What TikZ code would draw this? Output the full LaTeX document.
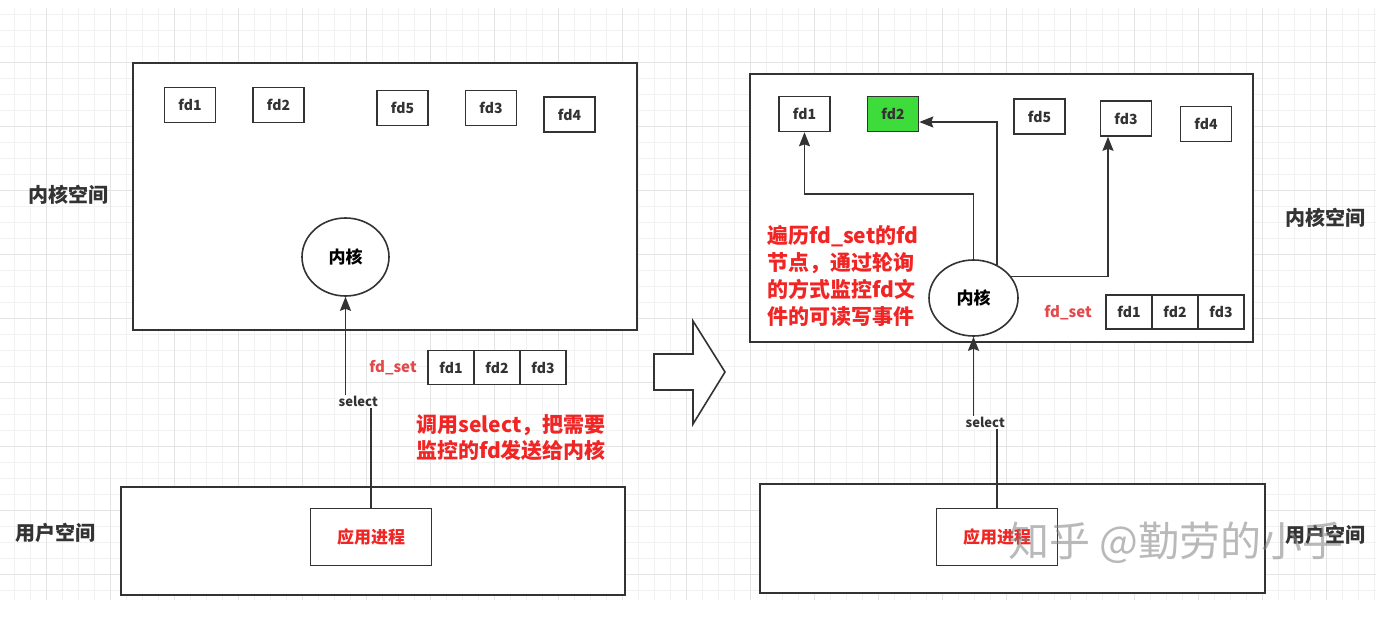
\documentclass[tikz,border=0pt]{standalone}
\usepackage{fontspec}
\setmainfont{Noto Sans CJK SC}
\usetikzlibrary{shapes.geometric,arrows.meta}
\definecolor{inkgray}{HTML}{333333}
\definecolor{gridfine}{HTML}{F1F1F1}
\definecolor{gridbold}{HTML}{E4E4E4}
\definecolor{notered}{HTML}{F22525}
\definecolor{setred}{HTML}{E5484B}
\definecolor{hitgreen}{HTML}{3EDC3A}

\begin{document}
\begin{tikzpicture}[x=1pt,y=-1pt,
  box/.style={draw=inkgray,line width=1.6pt,fill=white,inner sep=0pt},
  spacebox/.style={box},
  fdbox/.style={box,minimum width=51pt,minimum height=35pt,text=inkgray,
    font=\bfseries\fontsize{14}{16}\selectfont},
  cell/.style={fdbox,minimum width=46pt,minimum height=34pt},
  core/.style={box,ellipse,text=black,font=\bfseries\fontsize{17}{20}\selectfont},
  appbox/.style={box,minimum width=121pt,minimum height=57pt,text=notered,
    font=\bfseries\fontsize{17}{20}\selectfont},
  title/.style={text=inkgray,font=\bfseries\fontsize{20}{24}\selectfont},
  setlabel/.style={text=setred,font=\bfseries\fontsize{15}{18}\selectfont},
  note/.style={text=notered,inner sep=0pt,font=\bfseries\fontsize{21}{26}\selectfont},
  tag/.style={fill=white,text=inkgray,inner sep=1.5pt,font=\bfseries\fontsize{13}{15}\selectfont},
  link/.style={draw=inkgray,line width=1.6pt,-{Stealth[length=14pt,width=11pt,inset=2pt]}}]
  \useasboundingbox[fill=white] (0,0) rectangle (1376,642);

  % background grid
  \foreach \gx in {14.7,30.7,...,1376}
    \draw[gridfine,line width=0.8pt] (\gx,8) -- (\gx,600);
  \foreach \gy in {14.3,30.3,...,600}
    \draw[gridfine,line width=0.8pt] (0,\gy) -- (1376,\gy);
  \foreach \gx in {46.7,110.7,...,1376}
    \draw[gridbold,line width=1pt] (\gx,8) -- (\gx,600);
  \foreach \gy in {62.3,126.3,...,600}
    \draw[gridbold,line width=1pt] (0,\gy) -- (1376,\gy);

  % left: before select
  \node[spacebox,minimum width=504pt,minimum height=267pt] (kspL) at (385,196.5) {};
  \node[fdbox] (fd1L) at (190,105) {fd1};
  \node[fdbox] (fd2L) at (278.5,105) {fd2};
  \node[fdbox] (fd5L) at (402.5,108) {fd5};
  \node[fdbox] (fd3L) at (491,108) {fd3};
  \node[fdbox] (fd4L) at (569.5,114.5) {fd4};
  \node[core,minimum width=87pt,minimum height=78pt] (kernL) at (345.5,257) {内核};
  \node[title] (ktL) at (68,195) {内核空间};

  \node[setlabel] (setL) at (393,368) {fd\_set};
  \node[cell] (c1L) at (451,367.5) {fd1};
  \node[cell] (c2L) at (497,367.5) {fd2};
  \node[cell] (c3L) at (543,367.5) {fd3};
  \node[note,align=center] (noteL) at (511,438) {调用select，把需要\\监控的fd发送给内核};

  \node[spacebox,minimum width=504pt,minimum height=108pt] (uspL) at (373,541) {};
  \node[appbox] (appL) at (371,537) {应用进程};
  \node[title] (utL) at (55,533) {用户空间};
  \draw[link] (appL.north) -- ++(0,-106) -| node[pos=0.25,tag] {select} (kernL.south);

  % hollow arrow
  \draw[draw=inkgray,line width=1.6pt,fill=white]
    (654,354) -- (693,354) -- (693,321) -- (725,372) -- (693,424) -- (693,390) -- (654,390) -- cycle;

  % right: kernel polls the fds
  \node[spacebox,minimum width=503pt,minimum height=268pt] (kspR) at (1001.5,208) {};
  \node[fdbox] (fd1R) at (804.5,114) {fd1};
  \node[fdbox,fill=hitgreen] (fd2R) at (893,114) {fd2};
  \node[fdbox] (fd5R) at (1039.5,116.5) {fd5};
  \node[fdbox] (fd3R) at (1126,118.5) {fd3};
  \node[fdbox] (fd4R) at (1206,124) {fd4};
  \node[core,minimum width=89pt,minimum height=76pt] (kernR) at (973.5,298) {内核};
  \node[title] (ktR) at (1325,218) {内核空间};

  \node[setlabel] (setR) at (1068,313) {fd\_set};
  \node[cell] (c1R) at (1129,312) {fd1};
  \node[cell] (c2R) at (1175,312) {fd2};
  \node[cell] (c3R) at (1221,312) {fd3};
  \node[note,align=left,font=\bfseries\fontsize{21}{27}\selectfont,anchor=north west] (noteR) at (767,225)
    {遍历fd\_set的fd\\节点，通过轮询\\的方式监控fd文\\件的可读写事件};

  \draw[link] (kernR.north) -- ++(0,-65) -| (fd1R.south);
  \draw[link] (kernR.55) |- ([yshift=-8pt]fd2R.east);
  \draw[link] (kernR.30) -| ([xshift=-18pt]fd3R.south);

  \node[spacebox,minimum width=505pt,minimum height=109pt] (uspR) at (1012.5,538.5) {};
  \node[appbox] (appR) at (997,537) {应用进程};
  \node[title] (utR) at (1325,535) {用户空间};
  \draw[link] (appR.north) -- ++(0,-85) -| node[pos=0.25,tag] {select} (kernR.south);

  % watermark
  \node[text=gray,text opacity=0.55,font=\fontsize{41}{45}\selectfont] (mark) at (1176,543) {知乎 @勤劳的小手};
\end{tikzpicture}
\end{document}
